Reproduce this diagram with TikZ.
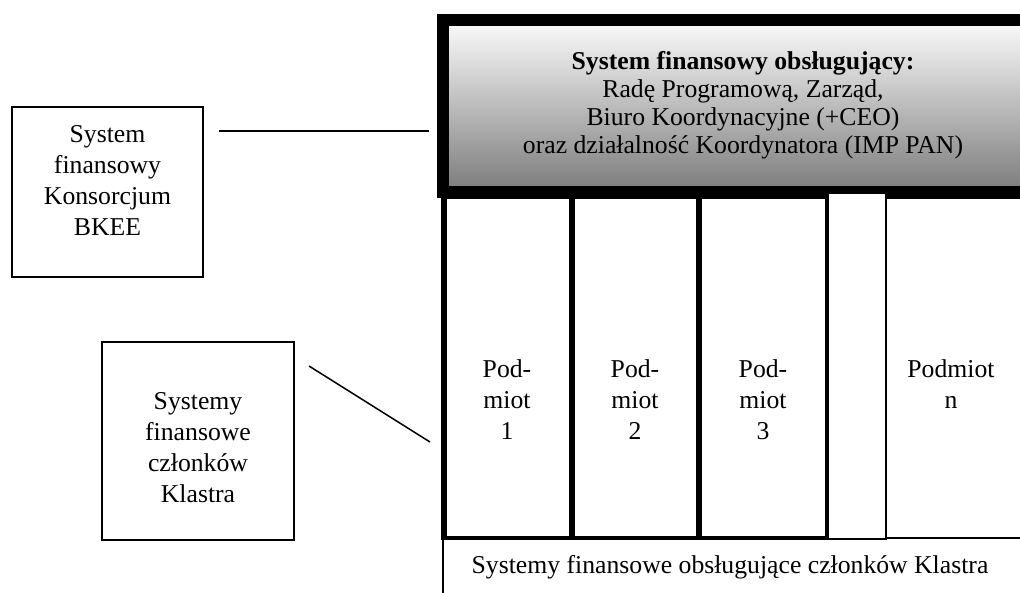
\documentclass[tikz,border=0pt]{standalone}
\usepackage{fontspec}
\setmainfont{Liberation Serif}
\begin{document}
\begin{tikzpicture}[x=1pt,y=-1pt,
  txt/.style={font=\fontsize{25.7}{31}\selectfont, align=center, inner sep=0pt},
  htxt/.style={font=\fontsize{25.7}{28}\selectfont, align=center, inner sep=0pt},
  thinbox/.style={draw, line width=1.5pt, inner sep=0pt},
  colbox/.style={draw, line width=1.2pt, inner sep=0pt, minimum height=340pt},
  link/.style={line width=1.8pt}]
\useasboundingbox (0,0) rectangle (1020,592);
\begin{scope}
\clip (0,0) rectangle (1020,592);
% header
\shade[top color=white!97!black, bottom color=black!50] (449,26) rectangle (1046,186);
\node[draw, line width=12pt, minimum width=603pt, minimum height=172pt, inner sep=0pt] (head) at (744.5,106) {};
\node[htxt] (headtxt) at (743,105) {\textbf{System finansowy obsługujący:}\\Radę Programową, Zarząd,\\Biuro Koordynacyjne (+CEO)\\oraz działalność Koordynatora (IMP PAN)};
% columns
\node[colbox, minimum width=128pt] (p1) at (508,368) {};
\node[colbox, minimum width=127pt] (p2) at (635.5,368) {};
\node[colbox, minimum width=128pt] (p3) at (763,368) {};
\node[colbox, minimum width=150pt] (pn) at (961,368) {};
\draw[line width=6pt] (444,192) -- (444,540);
\draw[line width=6pt] (572,198) -- (572,538);
\draw[line width=6pt] (699,198) -- (699,538);
\draw[line width=3pt] (826.5,198) -- (826.5,538);
\draw[line width=4pt] (441,538) -- (827,538);
\node[draw, line width=1.2pt, fill=white, minimum width=58pt, minimum height=346pt, inner sep=0pt] (pdots) at (857,366) {};
\node[txt] at (507,400) {Pod-\\miot\\1};
\node[txt] at (635,400) {Pod-\\miot\\2};
\node[txt] at (763,400) {Pod-\\miot\\3};
\node[txt] at (951,384) {Podmiot\\n};
% bottom
\coordinate (bl) at (443,540);
\coordinate (bl2) at (443,600);
\draw[line width=1.2pt] (bl) -- (bl2);
\node[txt] (bottxt) at (730,567) {Systemy finansowe obsługujące członków Klastra};
% left boxes
\node[thinbox, minimum width=191pt, minimum height=170pt] (bkee) at (107.5,192) {};
\node[txt] at (107.5,181) {System\\finansowy\\Konsorcjum\\BKEE};
\node[thinbox, minimum width=192pt, minimum height=198pt] (czl) at (198,441) {};
\node[txt] at (198,448) {Systemy\\finansowe\\członków\\Klastra};
% connectors
\coordinate (c1a) at (219,131);
\coordinate (c1b) at (429,131);
\draw[link] (c1a) -- (c1b);
\coordinate (c2a) at (309,366);
\coordinate (c2b) at (430,442);
\draw[line width=1.5pt] (c2a) -- (c2b);
\end{scope}
\end{tikzpicture}
\end{document}
